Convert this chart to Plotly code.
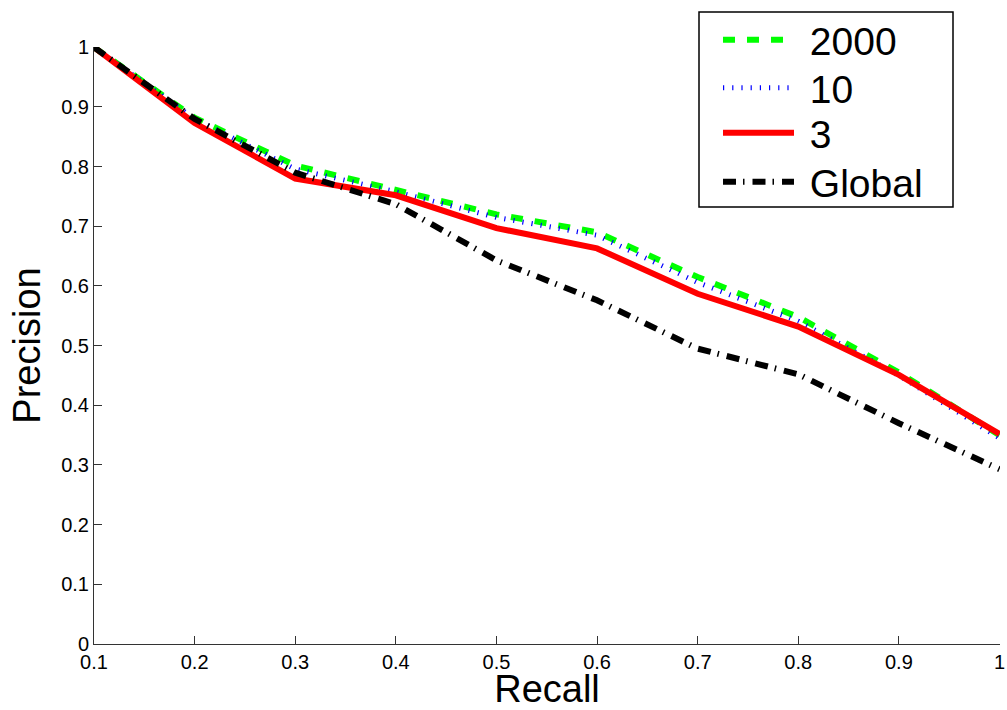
import plotly.graph_objects as go

recall = [0.1, 0.2, 0.3, 0.4, 0.5, 0.6, 0.7, 0.8, 0.9, 1.0]
p_2000 = [1.0, 0.882, 0.802, 0.762, 0.720, 0.690, 0.615, 0.548, 0.455, 0.350]
p_10 = [1.0, 0.880, 0.796, 0.758, 0.715, 0.685, 0.606, 0.541, 0.450, 0.345]
p_3 = [1.0, 0.873, 0.780, 0.752, 0.697, 0.663, 0.587, 0.532, 0.451, 0.352]
p_global = [1.0, 0.880, 0.790, 0.737, 0.643, 0.576, 0.495, 0.452, 0.370, 0.293]

x_ticks = [0.1, 0.2, 0.3, 0.4, 0.5, 0.6, 0.7, 0.8, 0.9, 1.0]
x_ticklabels = ["0.1", "0.2", "0.3", "0.4", "0.5", "0.6", "0.7", "0.8", "0.9", "1"]
y_ticks = [0, 0.1, 0.2, 0.3, 0.4, 0.5, 0.6, 0.7, 0.8, 0.9, 1.0]
y_ticklabels = ["0", "0.1", "0.2", "0.3", "0.4", "0.5", "0.6", "0.7", "0.8", "0.9", "1"]

FONT = "Liberation Sans, Arial, Helvetica, sans-serif"
NB = "\u00a0"
W, H = 1007, 710
ML, MR, MT, MB = 94, 7, 47, 66
PW, PH = W - ML - MR, H - MT - MB

# legend layout (pixels from top-left of the page)
LEG_LEFT = 718
LEG_ROWS = [40, 88, 133, 182]
BOX = (699, 12, 953, 207)

fig = go.Figure()
fig.add_trace(go.Scatter(x=recall, y=p_2000, mode="lines", name=NB + "2000", legend="legend",
                         line=dict(color="#00ff00", width=6, dash="12px,12px")))
fig.add_trace(go.Scatter(x=recall, y=p_10, mode="lines", name=NB + "10", legend="legend2",
                         line=dict(color="#0000ff", width=5, dash="1.2px,8px")))
fig.add_trace(go.Scatter(x=recall, y=p_3, mode="lines", name=NB + "3", legend="legend3",
                         line=dict(color="#ff0000", width=6)))
fig.add_trace(go.Scatter(x=recall, y=p_global, mode="lines", name=NB + "Global", legend="legend4",
                         line=dict(color="#000000", width=6, dash="13px,7px,1.5px,8px")))

def leg(row_y):
    return dict(xref="container", yref="container",
                x=LEG_LEFT / W, y=1 - row_y / H, xanchor="left", yanchor="middle",
                borderwidth=0, bgcolor="rgba(0,0,0,0)",
                font=dict(size=39, family=FONT), itemwidth=71, tracegroupgap=0)

fig.update_layout(
    width=W, height=H,
    margin=dict(l=ML, r=MR, t=MT, b=MB, autoexpand=False),
    paper_bgcolor="white", plot_bgcolor="white",
    font=dict(family=FONT, color="black", size=20),
    showlegend=True,
    legend=leg(LEG_ROWS[0]),
    legend2=leg(LEG_ROWS[1]),
    legend3=leg(LEG_ROWS[2]),
    legend4=leg(LEG_ROWS[3]),
    shapes=[dict(type="rect", xref="paper", yref="paper",
                 x0=(BOX[0] - ML) / PW, x1=(BOX[2] - ML) / PW,
                 y0=(H - MB - BOX[3]) / PH, y1=(H - MB - BOX[1]) / PH,
                 line=dict(color="black", width=1.5), fillcolor="white", layer="above")],
    xaxis=dict(range=[0.1, 1.0005], tickvals=x_ticks, ticktext=x_ticklabels,
               ticks="inside", ticklen=8, tickcolor="#333", showgrid=False,
               zeroline=False, showline=True, linecolor="#333", linewidth=1,
               tickfont=dict(size=20), automargin=False,
               title=dict(text="Recall", font=dict(size=38), standoff=0)),
    yaxis=dict(range=[0, 1.0005], tickvals=y_ticks, ticktext=y_ticklabels,
               ticks="inside", ticklen=8, tickcolor="#333", showgrid=False,
               zeroline=False, showline=True, linecolor="#333", linewidth=1,
               tickfont=dict(size=20), automargin=False,
               title=dict(text="Precision", font=dict(size=38), standoff=8)),
)

fig.write_html("out.html", config={"displayModeBar": False},
               post_script="document.body.style.margin='0';")
